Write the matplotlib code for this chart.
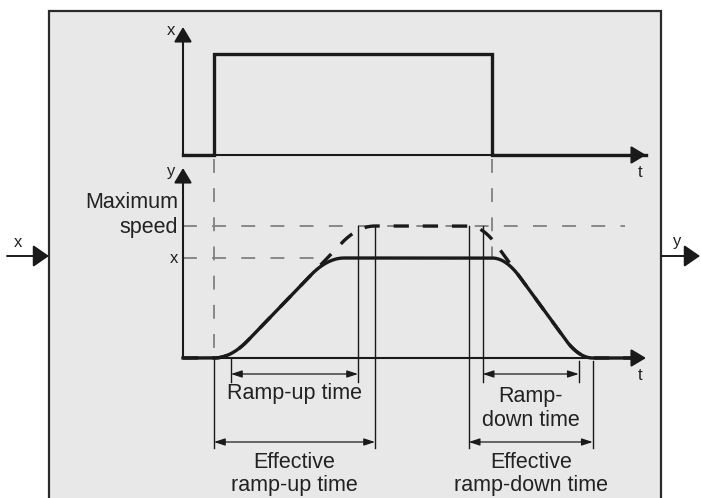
import numpy as np
import matplotlib
matplotlib.use("Agg")
import matplotlib.pyplot as plt
from matplotlib.patches import Rectangle

plt.rcParams['font.family'] = ['Liberation Sans', 'DejaVu Sans']
plt.rcParams['lines.scale_dashes'] = False

# timing of the setpoint step (time units from the y axis)
t_on = 31
t_off = 309
t_end = 463

# ramp generator settings
ramp_up_time = 127
ramp_down_time = 96
round_up = 34
round_down = 28

# speed levels in percent
setpoint = 100
max_speed = 132

# input step x(t)
step_times = [0, t_on, t_off, t_end]
step_values = [0, 1, 0, 0]

INK = '#1a1a1a'
GUIDE = '#808080'
BIG = 15.5
SMALL = 12


def ramp(t, t0, level, ramp_time, rounding):
    """Jerk-limited rise from 0 to level, slope fixed by max_speed / ramp_time."""
    a = max_speed / ramp_time
    dur = level / a + rounding
    tau = np.clip(t - t0, 0, dur)
    y = np.where(tau < rounding, a * tau ** 2 / (2 * rounding),
                 np.where(tau < dur - rounding, a * rounding / 2 + a * (tau - rounding),
                          level - a * (dur - tau) ** 2 / (2 * rounding)))
    return y, dur


# solid output: rises to the setpoint, falls when the step goes off
t = np.linspace(0, t_end - 15, 3000)
up_solid, dur_up_solid = ramp(t, t_on, setpoint, ramp_up_time, round_up)
a_dn = max_speed / ramp_down_time
dur_dn_solid = setpoint / a_dn + round_down
solid_stop = t_off + dur_dn_solid
dn_solid, _ = ramp(t, t_off, setpoint, ramp_down_time, round_down)
y_solid = up_solid - dn_solid

# dashed output: same ramps run to maximum speed
eff_up = ramp_up_time + round_up
eff_dn = ramp_down_time + round_down
dn_start = solid_stop - eff_dn
up_max, _ = ramp(t, t_on, max_speed, ramp_up_time, round_up)
dn_max, _ = ramp(t, dn_start, max_speed, ramp_down_time, round_down)
y_dashed = up_max - dn_max

# annotation spans
ru_a = t_on + round_up / 2
ru_b = ru_a + ramp_up_time
rd_a = dn_start + round_down / 2
rd_b = rd_a + ramp_down_time
eu_a, eu_b = t_on, t_on + eff_up
ed_a, ed_b = dn_start, solid_stop

# layout of the drawing (figure units, bottom baseline at 0)
TOP_BASE = 203
TOP_H = 101
ROW_RAMP = -16
ROW_EFF = -84
EXT_RAMP = -24
EXT_EFF = -90

fig = plt.figure(figsize=(7.01, 4.98), dpi=100)
ax = fig.add_axes([0, 0, 1, 1])
ax.set_xlim(-183, 518)
ax.set_ylim(-140, 358)
ax.axis('off')

# block frame
ax.add_patch(Rectangle((-134, -170), 612, 517, facecolor='#e8e8e8',
                       edgecolor='#2a2a2a', lw=1.6, zorder=0))


def arrow(x0, y0, x1, y1, lw=1.5, scale=15, hl=0.6, hw=0.36):
    ax.annotate('', xy=(x1, y1), xytext=(x0, y0),
                arrowprops=dict(arrowstyle=f'-|>,head_length={hl},head_width={hw}',
                                lw=lw, color=INK, shrinkA=0, shrinkB=0,
                                mutation_scale=scale), zorder=6)


def span(x0, x1, y):
    ax.annotate('', xy=(x1, y), xytext=(x0, y),
                arrowprops=dict(arrowstyle='<|-|>,head_length=0.55,head_width=0.18',
                                lw=0.9, color=INK, shrinkA=0, shrinkB=0,
                                mutation_scale=12), zorder=6)


# axes of both charts
arrow(0, TOP_BASE, 0, TOP_BASE + 128)
arrow(0, TOP_BASE, t_end, TOP_BASE)
arrow(0, 0, 0, 190)
arrow(0, 0, t_end, 0)

# input/output arrows outside the block
arrow(-176, 102, -134, 102, lw=1.4, hl=0.65, hw=0.45)
arrow(478, 102, 517, 102, lw=1.4, hl=0.65, hw=0.45)

# guide lines
gd = dict(color=GUIDE, lw=1.3, dashes=(10, 11), zorder=2)
ax.plot([0, 442], [max_speed, max_speed], **gd)
cross = t[np.argmax(y_dashed >= setpoint)]
ax.plot([0, cross], [setpoint, setpoint], **gd)
ax.plot([t_on, t_on], [TOP_BASE - 4, 0], **gd)
ax.plot([t_off, t_off], [TOP_BASE - 4, setpoint], **gd)

# input step
ax.step(step_times, [TOP_BASE + TOP_H * v for v in step_values], where='post',
        color=INK, lw=2.4, zorder=4, solid_joinstyle='miter')

# output curves
ax.plot(t, y_dashed, color=INK, lw=2.4, dashes=(11, 10), zorder=3)
ax.plot(t, y_solid, color=INK, lw=2.4, zorder=4)

# extension lines
ext = dict(color=INK, lw=1.0, zorder=5)
ax.plot([ru_a, ru_a], [0, EXT_RAMP], **ext)
ax.plot([ru_b, ru_b], [max_speed, EXT_RAMP], **ext)
ax.plot([eu_a, eu_a], [0, EXT_EFF], **ext)
ax.plot([eu_b, eu_b], [max_speed, EXT_EFF], **ext)
ax.plot([ed_a, ed_a], [max_speed, EXT_EFF], **ext)
ax.plot([rd_a, rd_a], [max_speed, EXT_RAMP], **ext)
ax.plot([rd_b, rd_b], [-3, EXT_RAMP], **ext)
ax.plot([ed_b, ed_b], [-3, EXT_EFF], **ext)

span(ru_a, ru_b, ROW_RAMP)
span(eu_a, eu_b, ROW_EFF)
span(rd_a, rd_b, ROW_RAMP)
span(ed_a, ed_b, ROW_EFF)

# texts
txt = dict(color='#222222', va='baseline')
ax.text((ru_a + ru_b) / 2, -41, 'Ramp-up time', ha='center', fontsize=BIG, **txt)
ax.text((eu_a + eu_b) / 2, -110, 'Effective', ha='center', fontsize=BIG, **txt)
ax.text((eu_a + eu_b) / 2, -133, 'ramp-up time', ha='center', fontsize=BIG, **txt)
ax.text((rd_a + rd_b) / 2, -44, 'Ramp-', ha='center', fontsize=BIG, **txt)
ax.text((rd_a + rd_b) / 2, -68, 'down time', ha='center', fontsize=BIG, **txt)
ax.text((ed_a + ed_b) / 2, -110, 'Effective', ha='center', fontsize=BIG, **txt)
ax.text((ed_a + ed_b) / 2, -133, 'ramp-down time', ha='center', fontsize=BIG, **txt)
ax.text(-5, 150, 'Maximum', ha='right', fontsize=BIG, **txt)
ax.text(-5, 125, 'speed', ha='right', fontsize=BIG, **txt)
ax.text(-5, 95, 'x', ha='right', fontsize=SMALL, **txt)
ax.text(-8, 323, 'x', ha='right', fontsize=SMALL, **txt)
ax.text(-8, 182, 'y', ha='right', fontsize=SMALL, **txt)
ax.text(457, 181, 't', ha='center', fontsize=SMALL, **txt)
ax.text(457, -22, 't', ha='center', fontsize=SMALL, **txt)
ax.text(-165, 111, 'x', ha='center', fontsize=SMALL, **txt)
ax.text(494, 112, 'y', ha='center', fontsize=SMALL, **txt)

fig.savefig('out.png', dpi=100, facecolor='white')
